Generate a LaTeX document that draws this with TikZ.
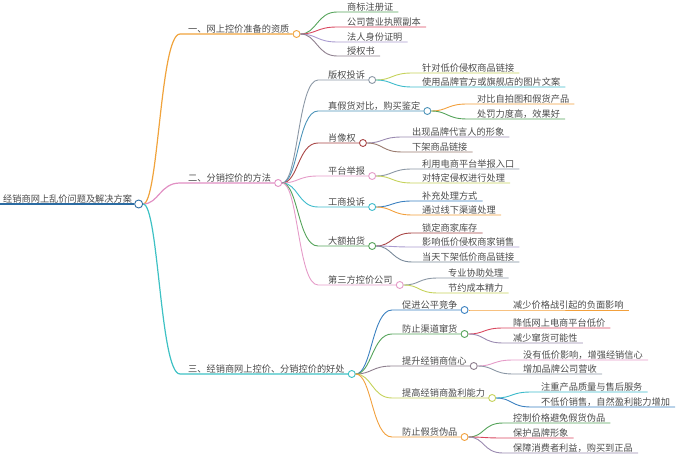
\documentclass[tikz,border=0pt]{standalone}
\usepackage{fontspec}
\newfontfamily\cjk{Noto Sans CJK SC}
\usepackage{tikz}
\usetikzlibrary{positioning}

\definecolor{txt}{HTML}{4A4A4A}
\definecolor{cRoot}{HTML}{2B6CA3}
\definecolor{cB1}{HTML}{F0A33C}
\definecolor{cB2}{HTML}{E18FC3}
\definecolor{cB3}{HTML}{3EC1C4}
\definecolor{cGreen}{HTML}{55A35A}
\definecolor{cRed}{HTML}{D9485F}
\definecolor{cLav}{HTML}{A99BD0}
\definecolor{cLav2}{HTML}{9A8AB0}
\definecolor{cMauve}{HTML}{8E7F8E}
\definecolor{cGray}{HTML}{8B97A5}
\definecolor{cSteel}{HTML}{4C93B8}
\definecolor{cBrick}{HTML}{A84545}
\definecolor{cPink}{HTML}{E59BC8}
\definecolor{cCyan}{HTML}{3DBBCB}
\definecolor{cBlue}{HTML}{3A80C0}
\definecolor{cOlive}{HTML}{C5D25A}
\definecolor{cOrange}{HTML}{F2A03C}
\definecolor{cBrown}{HTML}{9A7B6E}
\definecolor{cSlate}{HTML}{7A8A9A}

\begin{document}
\begin{tikzpicture}[x=1pt, y=-1pt,
  leaf/.style={font=\cjk\fontsize{9.2}{10}\selectfont, text=txt, inner xsep=0pt, inner ysep=0.8pt, anchor=south west},
  dot/.style={circle, draw=#1, fill=white, line width=0.9pt, inner sep=0pt, minimum size=7pt},
  wire/.style={draw=#1, line width=0.9pt}]
\useasboundingbox (0,0) rectangle (700,470);

% root
\node[leaf] (root) at (3,204) {经销商网上乱价问题及解决方案};
\node[dot=cRoot, minimum size=8pt, right=2pt of root.south east] (rootc) {};
\draw[wire=cRoot, line width=2pt] ([xshift=-3pt]root.south west) -- (rootc);

% main branches
\foreach \nm/\lbl/\y/\col in {b1/一、网上控价准备的资质/34/cB1, b2/二、分销控价的方法/183/cB2, b3/三、经销商网上控价、分销控价的好处/374/cB3}
{
  \node[leaf] (\nm) at (188,\y) {\lbl};
  \node[dot=\col, right=3pt of \nm.south east] (\nm-c) {};
  \draw[wire=\col, line width=1.2pt] (rootc) .. controls +(20,0) and +(-20,0) .. ([xshift=-8pt]\nm.south west) -- (\nm-c);
}

% sub topics
\foreach \nm/\p/\x/\lbl/\y/\col in {
  m1/b2-c/328/版权投诉/80/cGray,
  m2/b2-c/328/真假货对比，购买鉴定/111/cSteel,
  m3/b2-c/328/肖像权/143/cBrick,
  m4/b2-c/328/平台举报/176/cPink,
  m5/b2-c/328/工商投诉/207/cCyan,
  m6/b2-c/328/大额拍货/246/cGreen,
  m7/b2-c/328/第三方控价公司/285/cPink,
  n1/b3-c/402/促进公平竞争/310/cBlue,
  n2/b3-c/402/防止渠道窜货/334/cGreen,
  n3/b3-c/402/提升经销商信心/366/cMauve,
  n4/b3-c/402/提高经销商盈利能力/398/cOlive,
  n5/b3-c/402/防止假货伪品/437/cOrange}
{
  \node[leaf] (\nm) at (\x,\y) {\lbl};
  \node[dot=\col, right=3pt of \nm.south east] (\nm-c) {};
  \draw[wire=\col] (\p) .. controls +(20,0) and +(-20,0) .. ([xshift=-10pt]\nm.south west) -- (\nm-c);
}

% leaves
\foreach \p/\x/\lbl/\y/\col [count=\i] in {
  b1-c/347/商标注册证/12/cGreen,
  b1-c/347/公司营业执照副本/27/cRed,
  b1-c/347/法人身份证明/42/cLav,
  b1-c/347/授权书/56/cMauve,
  m1-c/422/针对低价侵权商品链接/73/cOlive,
  m1-c/422/使用品牌官方或旗舰店的图片文案/87/cCyan,
  m2-c/477/对比自拍图和假货产品/104/cOrange,
  m2-c/477/处罚力度高，效果好/119/cGreen,
  m3-c/412/出现品牌代言人的形象/137/cLav2,
  m3-c/412/下架商品链接/152/cBrown,
  m4-c/422/利用电商平台举报入口/169/cGray,
  m4-c/422/对特定侵权进行处理/183/cOlive,
  m5-c/422/补充处理方式/201/cBlue,
  m5-c/422/通过线下渠道处理/215/cOrange,
  m6-c/422/锁定商家库存/233/cBrick,
  m6-c/422/影响低价侵权商家销售/247/cLav,
  m6-c/422/当天下架低价商品链接/262/cSlate,
  m7-c/448/专业协助处理/278/cGray,
  m7-c/448/节约成本精力/293/cOlive,
  n1-c/513/减少价格战引起的负面影响/310/cOrange,
  n2-c/513/降低网上电商平台低价/328/cRed,
  n2-c/513/减少窜货可能性/343/cLav2,
  n3-c/523/没有低价影响，增强经销信心/360/cPink,
  n3-c/523/增加品牌公司营收/374/cGray,
  n4-c/541/注重产品质量与售后服务/392/cCyan,
  n4-c/541/不低价销售，自然盈利能力增加/407/cBlue,
  n5-c/513/控制价格避免假货伪品/423/cGreen,
  n5-c/513/保护品牌形象/438/cRed,
  n5-c/513/保障消费者利益，购买到正品/453/cLav2}
{
  \node[leaf] (l\i) at (\x,\y) {\lbl};
  \draw[wire=\col] (\p) .. controls +(20,0) and +(-20,0) .. ([xshift=-10pt]l\i.south west) -- ([xshift=5pt]l\i.south east);
}
\end{tikzpicture}
\end{document}
